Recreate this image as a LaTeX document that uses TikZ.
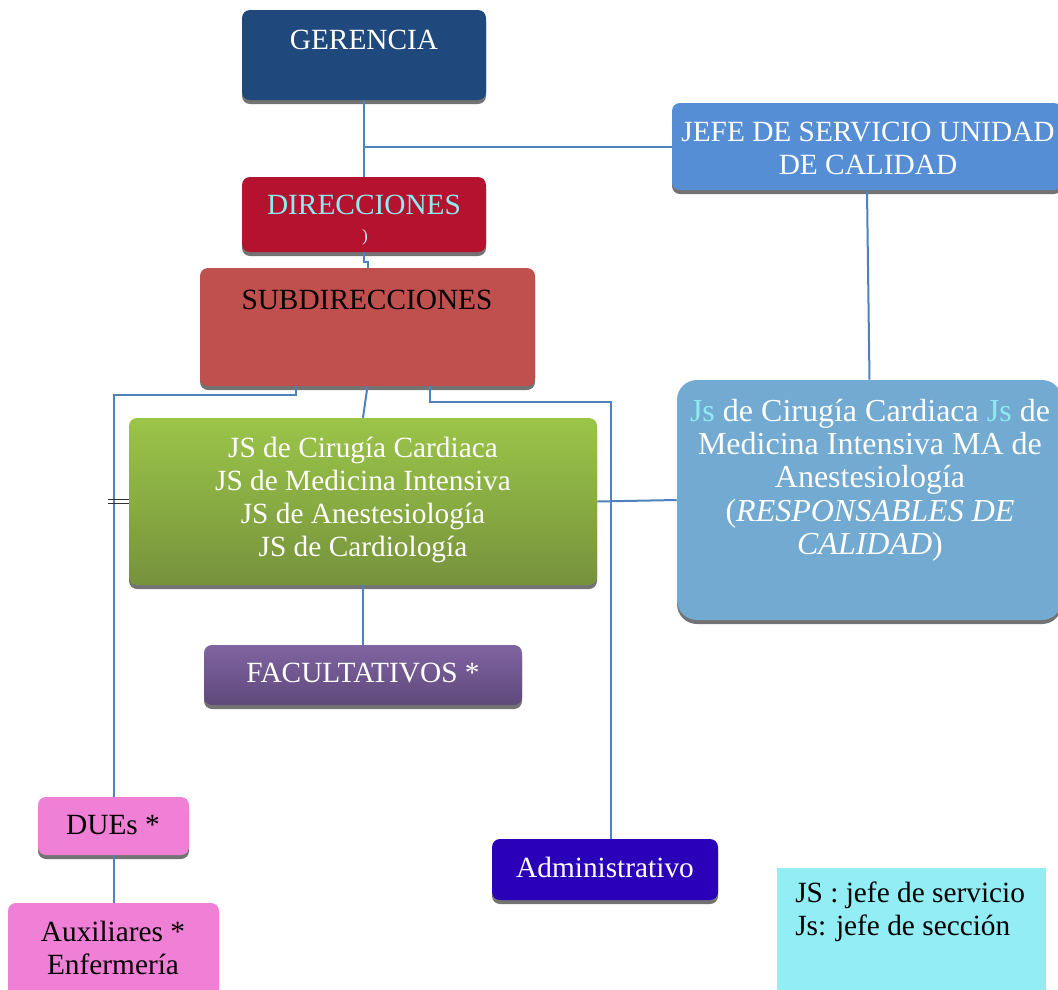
\documentclass[tikz,border=0pt]{standalone}
\usepackage{fontspec}
\setmainfont{Liberation Serif}
\usetikzlibrary{fit,shadows}
\definecolor{cger}{HTML}{1F497D}
\definecolor{cjefe}{HTML}{558ED5}
\definecolor{cdir}{HTML}{B5122F}
\definecolor{ccyan}{HTML}{8EEBF0}
\definecolor{csub}{HTML}{C0504D}
\definecolor{cgrtop}{HTML}{9BC549}
\definecolor{cgrbot}{HTML}{76923C}
\definecolor{cfactop}{HTML}{8064A2}
\definecolor{cfacbot}{HTML}{5F497A}
\definecolor{cjs}{HTML}{72AAD2}
\definecolor{cpink}{HTML}{F080D6}
\definecolor{cadm}{HTML}{2A00B8}
\definecolor{cleg}{HTML}{92EDF4}
\definecolor{cline}{HTML}{4F81BD}
\begin{document}
\begin{tikzpicture}[x=0.75pt,y=-0.75pt,
  box/.style={draw=none, rectangle, rounded corners=6pt, inner sep=0pt},
  shd/.style={drop shadow={shadow xshift=0pt, shadow yshift=-3pt, fill=black!55, opacity=1}},
  txt/.style={font=\fontsize{22}{24.75}\selectfont, align=center, inner sep=0pt},
  conn/.style={draw=cline, line width=1.5pt}]
\useasboundingbox (0,0) rectangle (1058,990);
% boxes
\node[box, shd, fill=cger, fit={(242,10) (486,100)}] (ger) {};
\node[box, shd, fill=cjefe, fit={(672,103) (1062,190)}] (jefe) {};
\node[box, shd, fill=cdir, fit={(242,177) (486,252)}] (dir) {};
\node[box, shd, fill=csub, fit={(200,268) (535,386)}] (sub) {};
\node[box, shd, top color=cgrtop, bottom color=cgrbot, fit={(129,418) (597,585)}] (green) {};
\node[box, shd, top color=cfactop, bottom color=cfacbot, fit={(204,645) (522,705)}] (fac) {};
\node[box, shd, fill=cjs, rounded corners=15pt, fit={(677,380) (1062,620)}] (js) {};
\node[box, shd, fill=cpink, fit={(38,797) (189,855)}] (due) {};
\node[box, fill=cpink, fit={(8,903) (219,998)}] (aux) {};
\node[box, shd, fill=cadm, fit={(492,839) (718,900)}] (adm) {};
\node[box, rounded corners=0pt, fill=cleg, fit={(777,868) (1046,998)}] (leg) {};
% texts
\node[txt, text=white] (gerT) at (364,40) {GERENCIA};
\node[txt, text=white] (jefeT) at (868,148) {JEFE DE SERVICIO UNIDAD\\DE CALIDAD};
\node[txt, text=ccyan] (dirT) at (364,205) {DIRECCIONES};
\node[txt, text=ccyan!60!white, font=\fontsize{13}{14}\selectfont] (dirM) at (365,237) {)};
\node[txt, text=black] (subT) at (367,300) {SUBDIRECCIONES};
\node[txt, text=white] (greenT) at (363,500) {JS de Cirugía Cardiaca\\JS de Medicina Intensiva\\JS de Anestesiología\\JS de Cardiología};
\node[txt, text=white, font=\fontsize{24}{25}\selectfont] (jsT) at (870,480) {\textcolor{ccyan}{Js} de Cirugía Cardiaca \textcolor{ccyan}{Js} de\\Medicina Intensiva MA de\\Anestesiología\\(\textit{RESPONSABLES DE}\\\textit{CALIDAD})};
\node[txt, text=white] (facT) at (363,673) {FACULTATIVOS *};
\node[txt, text=black] (dueT) at (113,825) {DUEs *};
\node[txt, text=black] (auxT) at (113,948) {Auxiliares *\\Enfermería};
\node[txt, text=white] (admT) at (605,867) {Administrativo};
\node[txt, text=black, align=left, anchor=west] (legT) at (795,912) {JS : jefe de servicio\\Js: jefe de sección};
% connectors
\draw[conn] (ger.south) -- (dir.north);
\draw[conn] (ger.south |- jefe.west) -- (jefe.west);
\draw[conn] (dir.south) -- ++(0,10) -| (sub.north);
\draw[conn] (sub.south -| 296,0) -- ++(0,9) -| (due.north);
\draw[conn] (sub.south) -- (green.north);
\draw[conn] (sub.south -| 430,0) |- (611,402) -- (adm.north -| 611,0);
\draw[conn] (green.south) -- (fac.north);
\draw[conn] (green.east) -- (js.west);
\draw[conn] (jefe.south) -- (js.north);
\draw[conn] (due.south) -- (aux.north);
\draw[draw=black!80, line width=0.8pt] ([yshift=1.2pt]green.west) -- ++(-21,0);
\draw[draw=black!80, line width=0.8pt] ([yshift=-1.2pt]green.west) -- ++(-21,0);
\end{tikzpicture}
\end{document}
